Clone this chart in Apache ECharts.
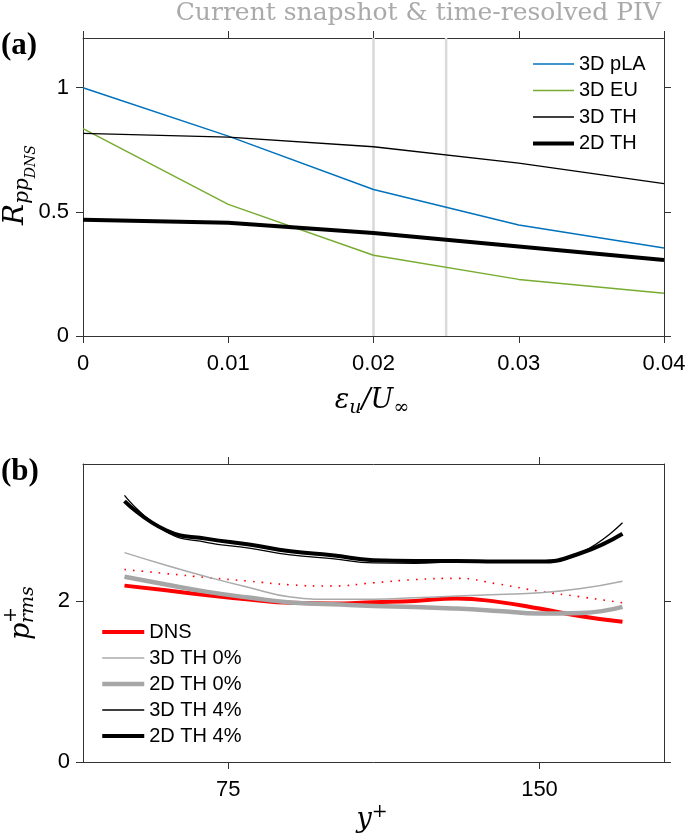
<!DOCTYPE html>
<html><head><meta charset="utf-8">
<script src="https://cdn.jsdelivr.net/npm/echarts@6/dist/echarts.min.js"></script>
<style>html,body{margin:0;padding:0;background:#fff}#c{width:685px;height:835px}</style>
</head><body><div id="c"></div>
<script>
// ---- Panel (a) data ----
const epsA = [0, 0.01, 0.02, 0.03, 0.04];
const pla3D = [1.0, 0.805, 0.59, 0.447, 0.354];
const eu3D = [0.835, 0.53, 0.325, 0.228, 0.172];
const th3D = [0.816, 0.801, 0.762, 0.696, 0.614];
const th2D = [0.468, 0.456, 0.415, 0.36, 0.306];
const pivLines = [0.02, 0.025];
const xTicksA = [0, 0.01, 0.02, 0.03, 0.04];
const yTicksA = [0, 0.5, 1];
const xRangeA = [0, 0.04];
const yRangeA = [0, 1.2];

// ---- Panel (b) data ----
const yPlus = [50, 60, 70, 80, 90, 100, 110, 120, 130, 140, 150, 160, 170];
const dns = [2.19, 2.133, 2.07, 2.017, 1.976, 1.968, 1.984, 2.0, 2.03, 1.988, 1.905, 1.81, 1.74];
const dnsDotted = [2.39, 2.34, 2.29, 2.245, 2.2, 2.185, 2.225, 2.265, 2.28, 2.21, 2.12, 2.05, 1.976];
const th3D0 = [2.6, 2.443, 2.298, 2.166, 2.05, 2.02, 2.02, 2.04, 2.06, 2.08, 2.10, 2.153, 2.244];
const th2D0 = [2.30, 2.203, 2.112, 2.042, 1.98, 1.959, 1.938, 1.926, 1.905, 1.876, 1.843, 1.85, 1.926];
const th3D4 = [3.31, 2.86, 2.725, 2.655, 2.572, 2.525, 2.472, 2.468, 2.485, 2.478, 2.48, 2.60, 2.97];
const th2D4 = [3.24, 2.877, 2.77, 2.70, 2.616, 2.567, 2.505, 2.496, 2.496, 2.488, 2.488, 2.595, 2.835];
const xTicksB = [75, 150];
const yTicksB = [0, 2];
const xRangeB = [40, 180];
const yRangeB = [0, 3.7];

const AX = '#333333';
const SANS = 'Liberation Sans';
const SERIF = 'DejaVu Serif';

function pairs(xs, ys) { return xs.map((x, i) => [x, ys[i]]); }

function axisCommon(extra) {
  return Object.assign({
    type: 'value',
    axisLine: { show: true, onZero: false, lineStyle: { color: AX, width: 1 } },
    splitLine: { show: false },
  }, extra);
}
const tick = vals => ({ show: true, inside: false, length: 7, customValues: vals, lineStyle: { color: AX, width: 1 } });

const chart = echarts.init(document.getElementById('c'), null, { renderer: 'canvas' });

const fmtA = v => (v === 0 ? '0' : (+v).toFixed(2));

const lbl = (vals, fmt, margin) => ({
  show: true, customValues: vals, formatter: fmt, fontSize: 22, fontFamily: SANS,
  color: '#000', margin: margin
});

function lineSeries(name, xs, ys, color, width, xi, yi, extra) {
  return Object.assign({
    name: name, type: 'line', xAxisIndex: xi, yAxisIndex: yi,
    data: pairs(xs, ys), symbol: 'none', showSymbol: false, silent: true,
    lineStyle: { color: color, width: width }, itemStyle: { color: color },
    z: 3
  }, extra || {});
}

const smoothB = { smooth: 0.5 };
const legendItemStyle = { opacity: 0, color: 'rgba(0,0,0,0)', borderWidth: 0 };

const option = {
  animation: false,
  backgroundColor: '#fff',
  grid: [
    { left: 83, top: 38, width: 581, height: 298, containLabel: false, outerBoundsMode: 'none' },
    { left: 83, top: 464, width: 581, height: 298, containLabel: false, outerBoundsMode: 'none' }
  ],
  xAxis: [
    axisCommon({ gridIndex: 0, position: 'bottom', min: xRangeA[0], max: xRangeA[1],
      axisTick: tick(xTicksA), axisLabel: lbl(xTicksA, fmtA, 17) }),
    axisCommon({ gridIndex: 0, position: 'top', min: xRangeA[0], max: xRangeA[1],
      axisTick: tick(xTicksA), axisLabel: { show: false } }),
    axisCommon({ gridIndex: 1, position: 'bottom', min: xRangeB[0], max: xRangeB[1],
      axisTick: tick(xTicksB), axisLabel: lbl(xTicksB, v => String(v), 17) }),
    axisCommon({ gridIndex: 1, position: 'top', min: xRangeB[0], max: xRangeB[1],
      axisTick: tick(xTicksB), axisLabel: { show: false } })
  ],
  yAxis: [
    axisCommon({ gridIndex: 0, position: 'left', min: yRangeA[0], max: yRangeA[1],
      axisTick: tick(yTicksA), axisLabel: lbl(yTicksA, v => String(v), 14) }),
    axisCommon({ gridIndex: 0, position: 'right', min: yRangeA[0], max: yRangeA[1],
      axisTick: tick(yTicksA), axisLabel: { show: false } }),
    axisCommon({ gridIndex: 1, position: 'left', min: yRangeB[0], max: yRangeB[1],
      axisTick: tick(yTicksB), axisLabel: lbl(yTicksB, v => String(v), 13) }),
    axisCommon({ gridIndex: 1, position: 'right', min: yRangeB[0], max: yRangeB[1],
      axisTick: tick(yTicksB), axisLabel: { show: false } })
  ],
  legend: [
    {
      orient: 'vertical', left: 531, top: 54, padding: 0, itemWidth: 41, itemHeight: 14, itemGap: 6.5,
      selectedMode: false, itemStyle: legendItemStyle,
      textStyle: { fontSize: 20, fontFamily: SANS, color: '#000', lineHeight: 20 },
      data: [
        { name: '3D pLA', lineStyle: { width: 1.5 } },
        { name: '3D EU', lineStyle: { width: 1.5 } },
        { name: '3D TH', lineStyle: { width: 1.3 } },
        { name: '2D TH', lineStyle: { width: 4 } }
      ]
    },
    {
      orient: 'vertical', left: 100, top: 622, padding: 0, itemWidth: 42, itemHeight: 14, itemGap: 6,
      selectedMode: false, itemStyle: legendItemStyle,
      textStyle: { fontSize: 20, fontFamily: SANS, color: '#000', lineHeight: 20 },
      data: [
        { name: 'DNS', lineStyle: { width: 4 } },
        { name: '3D TH 0%', lineStyle: { width: 1.5 } },
        { name: '2D TH 0%', lineStyle: { width: 4.5 } },
        { name: '3D TH 4%', lineStyle: { width: 1.3 } },
        { name: '2D TH 4%', lineStyle: { width: 4 } }
      ]
    }
  ],
  series: [
    ...pivLines.map((v, k) => ({
      name: 'piv' + k, type: 'line', xAxisIndex: 0, yAxisIndex: 0, silent: true, symbol: 'none',
      data: [[v, yRangeA[0]], [v, yRangeA[1]]], lineStyle: { color: '#d9d9d9', width: 2.5 }, z: 1
    })),
    lineSeries('3D pLA', epsA, pla3D, '#0072BD', 1.5, 0, 0),
    lineSeries('3D EU', epsA, eu3D, '#77AC30', 1.5, 0, 0),
    lineSeries('3D TH', epsA, th3D, '#000000', 1.3, 0, 0),
    lineSeries('2D TH', epsA, th2D, '#000000', 4, 0, 0),

    lineSeries('DNS', yPlus, dns, '#ff0000', 4, 2, 2, smoothB),
    lineSeries('DNS dotted', yPlus, dnsDotted, '#ff0000', 1.6, 2, 2,
      Object.assign({ lineStyle: { color: '#ff0000', width: 1.6, type: [1.6, 7] } }, smoothB)),
    lineSeries('3D TH 0%', yPlus, th3D0, '#aaaaaa', 1.5, 2, 2, smoothB),
    lineSeries('2D TH 0%', yPlus, th2D0, '#a6a6a6', 4.5, 2, 2, smoothB),
    lineSeries('2D TH 4%', yPlus, th2D4, '#000000', 4, 2, 2, smoothB),
    lineSeries('3D TH 4%', yPlus, th3D4, '#000000', 1.3, 2, 2, smoothB)
  ],
  graphic: [
    { type: 'text', x: 661, y: 13, silent: true,
      style: { text: 'Current snapshot & time-resolved PIV', align: 'right', verticalAlign: 'middle',
        fontSize: 25, fontFamily: SERIF, fill: '#aaaaaa' } },
    { type: 'text', x: 1, y: 46, silent: true,
      style: { text: '(a)', align: 'left', verticalAlign: 'middle', fontSize: 31, fontWeight: 'bold',
        fontFamily: 'Liberation Serif', fill: '#000' } },
    { type: 'text', x: 1, y: 472, silent: true,
      style: { text: '(b)', align: 'left', verticalAlign: 'middle', fontSize: 31, fontWeight: 'bold',
        fontFamily: 'Liberation Serif', fill: '#000' } },
    { type: 'text', x: 16, y: 185, rotation: Math.PI / 2, silent: true,
      style: { text: '{R|R}{s|pp}{ss|DNS}', align: 'center', verticalAlign: 'middle',
        rich: {
          R: { fontSize: 28, fontFamily: SERIF, fontStyle: 'italic', fill: '#000' },
          s: { fontSize: 20, fontFamily: SERIF, fontStyle: 'italic', fill: '#000', padding: [14, 0, 0, 0] },
          ss: { fontSize: 14, fontFamily: SERIF, fontStyle: 'italic', fill: '#000', padding: [30, 0, 0, 0] }
        } } },
    { type: 'text', x: 372, y: 401, silent: true,
      style: { text: '{m|ε}{s|u}{m|/U}{s|∞}', align: 'center', verticalAlign: 'middle',
        rich: {
          m: { fontSize: 27, fontFamily: SERIF, fontStyle: 'italic', fill: '#000' },
          s: { fontSize: 19, fontFamily: SERIF, fontStyle: 'italic', fill: '#000', padding: [14, 0, 0, 0] }
        } } },
    { type: 'group', x: 22, y: 611, rotation: Math.PI / 2, silent: true,
      children: [
        { type: 'text', x: -29, y: 0, style: { text: 'p', align: 'left', verticalAlign: 'middle',
          fontSize: 27, fontFamily: SERIF, fontStyle: 'italic', fill: '#000' } },
        { type: 'text', x: -12, y: -11, style: { text: '+', align: 'left', verticalAlign: 'middle',
          fontSize: 19, fontFamily: SERIF, fill: '#000' } },
        { type: 'text', x: -12, y: 6, style: { text: 'rms', align: 'left', verticalAlign: 'middle',
          fontSize: 19, fontFamily: SERIF, fontStyle: 'italic', fill: '#000' } }
      ] },
    { type: 'text', x: 372, y: 820, silent: true,
      style: { text: '{m|y}{p|+}', align: 'center', verticalAlign: 'middle',
        rich: {
          m: { fontSize: 27, fontFamily: SERIF, fontStyle: 'italic', fill: '#000' },
          p: { fontSize: 19, fontFamily: SERIF, fill: '#000', padding: [0, 0, 16, 0] }
        } } }
  ]
};
chart.setOption(option);
</script>
</body></html>
